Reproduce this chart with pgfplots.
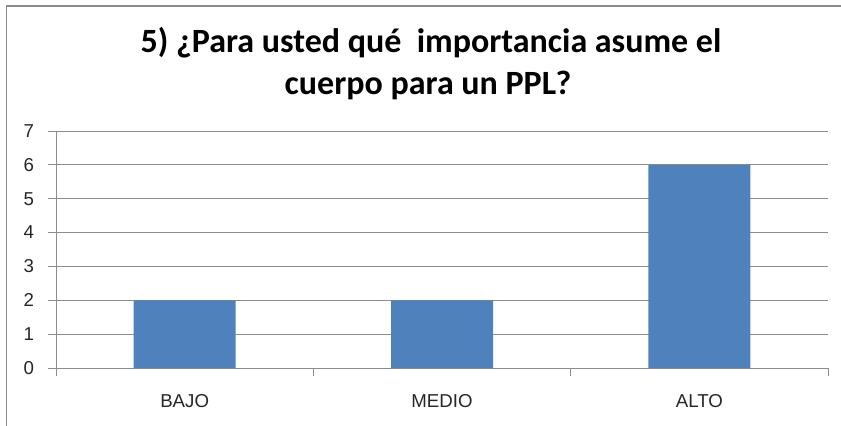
\documentclass[border=0pt]{standalone}
\usepackage{pgfplots}
\pgfplotsset{compat=1.18}
\usepackage{fontspec}
\setmainfont{Liberation Sans}
\newfontfamily\titlefont{Carlito}
\definecolor{barblue}{HTML}{4F81BD}
\definecolor{gridgray}{HTML}{8C8C8C}
\begin{document}
\begin{tikzpicture}
\useasboundingbox (0,0) rectangle (630.75pt,318.75pt);
\clip (0,0) rectangle (630.75pt,318.75pt);
\draw[gridgray, line width=1.2pt] (4.875pt,-10pt) -- (4.875pt,314.2pt) -- (650pt,314.2pt);
\node[anchor=base, font=\titlefont\bfseries\fontsize{25.5}{30}\selectfont] at (323.25pt,279pt) {5) ¿Para usted qué~ importancia asume el};
\node[anchor=base, font=\titlefont\bfseries\fontsize{25.5}{30}\selectfont] at (321pt,247.5pt) {cuerpo para un PPL?};
\begin{axis}[
  at={(42pt,42.75pt)}, anchor=south west, scale only axis,
  width=579pt, height=177.75pt,
  ymin=0, ymax=7, ytick={0,...,7},
  xmin=0.5, xmax=3.5, xtick={1,2,3},
  xticklabels={BAJO,MEDIO,ALTO},
  minor xtick={0.5,1.5,2.5,3.5},
  tick align=outside,
  major tick length=6pt, minor tick length=6pt,
  major x tick style={draw=none},
  minor x tick style={gridgray, line width=0.75pt},
  ytick style={gridgray, line width=0.75pt},
  axis x line*=bottom, axis y line*=left,
  axis line style={gridgray, line width=0.75pt, -},
  ymajorgrids, grid style={gridgray, line width=0.75pt},
  tick label style={font=\fontsize{14}{16}\selectfont, text=black!85},
  xticklabel style={yshift=-10pt},
  yticklabel style={xshift=-7pt},
  /pgf/number format/assume math mode=true,
  ybar, bar width=76.5pt,
]
\addplot[fill=barblue, draw=none] coordinates {(1,2) (2,2) (3,6)};
\end{axis}
\end{tikzpicture}
\end{document}
